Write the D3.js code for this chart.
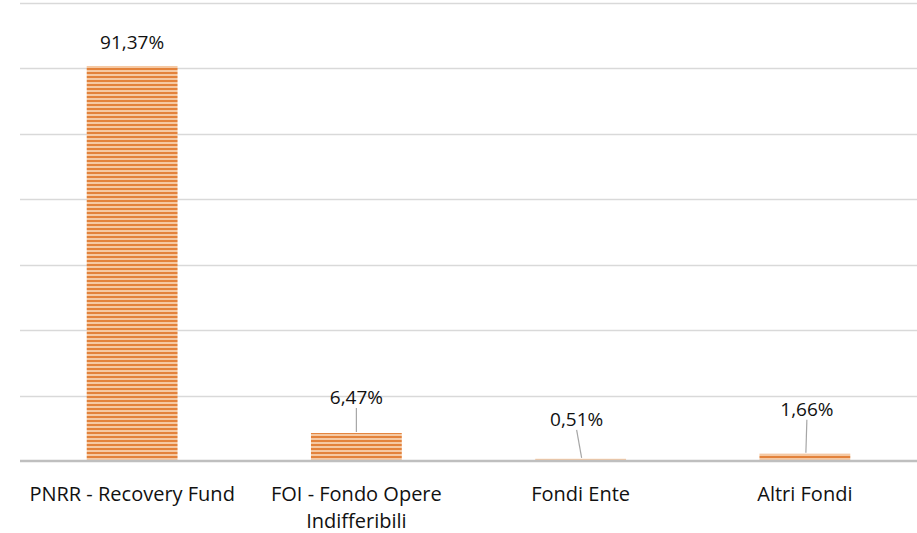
<!DOCTYPE html>
<html>
<head>
<meta charset="utf-8">
<script src="https://cdn.jsdelivr.net/npm/d3@7"></script>
<style>
  body { margin: 0; background: #fff; }
  svg text { font-family: "Open Sans", "Noto Sans", sans-serif; fill: #111; }
</style>
</head>
<body>
<div id="chart"></div>
<script>
// data
var categories = [["PNRR - Recovery Fund"], ["FOI - Fondo Opere", "Indifferibili"], ["Fondi Ente"], ["Altri Fondi"]];
var shares = [91.37, 6.47, 0.51, 1.66];
var shareLabels = ["91,37%", "6,47%", "0,51%", "1,66%"];
var gridTicks = [0, 15.13, 30.27, 45.40, 60.54, 75.67, 90.81, 105.94];
// label offsets from bar centre / bar top (leader lines)
var labelDx = [0, 0, -4, 2];
var labelDy = [-24, -36, -40, -45];

var svgWidth = 917;
var svgHeight = 533;

var margin = { top: 3, right: 0, bottom: 72, left: 20 };
var width = svgWidth - margin.left - margin.right;
var height = svgHeight - margin.top - margin.bottom;

var svg = d3.select("#chart")
  .append("svg")
  .attr("width", svgWidth)
  .attr("height", svgHeight);

var defs = svg.append("defs");
var pattern = defs.append("pattern")
  .attr("id", "stripes")
  .attr("patternUnits", "userSpaceOnUse")
  .attr("width", 8)
  .attr("height", 4);
pattern.append("rect").attr("width", 8).attr("height", 4).attr("fill", "#f5c9a3");
pattern.append("rect").attr("y", 1).attr("width", 8).attr("height", 2).attr("fill", "#e3823b");

var chartGroup = svg.append("g")
  .attr("transform", `translate(${margin.left}, ${margin.top})`);

var xScale = d3.scaleBand()
  .domain(d3.range(categories.length))
  .range([0, width])
  .paddingInner(0.595)
  .paddingOuter(0.2975);

var yScale = d3.scaleLinear()
  .domain([0, gridTicks[gridTicks.length - 1]])
  .range([height, 0]);

// gridlines
chartGroup.selectAll(".grid")
  .data(gridTicks.slice(1))
  .enter()
  .append("line")
  .attr("x1", 0)
  .attr("x2", width)
  .attr("y1", d => Math.round(yScale(d)) + 0.5)
  .attr("y2", d => Math.round(yScale(d)) + 0.5)
  .attr("stroke", "#d9d9d9")
  .attr("stroke-width", 1.5);

// bars
chartGroup.selectAll(".bar")
  .data(shares)
  .enter()
  .append("rect")
  .attr("x", (d, i) => xScale(i))
  .attr("y", d => yScale(d))
  .attr("width", xScale.bandwidth())
  .attr("height", d => height - yScale(d))
  .attr("fill", "url(#stripes)");

// axis line
chartGroup.append("line")
  .attr("x1", 0)
  .attr("x2", width)
  .attr("y1", height)
  .attr("y2", height)
  .attr("stroke", "#bfbfbf")
  .attr("stroke-width", 2.5);

// leader lines for the small bars
shares.forEach(function(d, i) {
  if (i === 0) return;
  var cx = xScale(i) + xScale.bandwidth() / 2;
  var top = yScale(d);
  chartGroup.append("line")
    .attr("x1", cx + labelDx[i])
    .attr("y1", top + labelDy[i] + 11)
    .attr("x2", cx + (i > 1 ? 1 : 0))
    .attr("y2", top - 1)
    .attr("stroke", "#a6a6a6")
    .attr("stroke-width", 1.2);
});

// value labels
chartGroup.selectAll(".vlabel")
  .data(shares)
  .enter()
  .append("text")
  .attr("x", (d, i) => xScale(i) + xScale.bandwidth() / 2 + labelDx[i])
  .attr("y", (d, i) => yScale(d) + labelDy[i])
  .attr("text-anchor", "middle")
  .attr("dominant-baseline", "central")
  .style("font-size", "19px")
  .text((d, i) => shareLabels[i]);

// category labels
categories.forEach(function(lines, i) {
  var t = chartGroup.append("text")
    .attr("x", xScale(i) + xScale.bandwidth() / 2)
    .attr("y", height + 32)
    .attr("text-anchor", "middle")
    .attr("dominant-baseline", "central")
    .style("font-size", "20px");
  lines.forEach(function(line, j) {
    t.append("tspan")
      .attr("x", xScale(i) + xScale.bandwidth() / 2)
      .attr("dy", j === 0 ? 0 : 27)
      .text(line);
  });
});
</script>
</body>
</html>
